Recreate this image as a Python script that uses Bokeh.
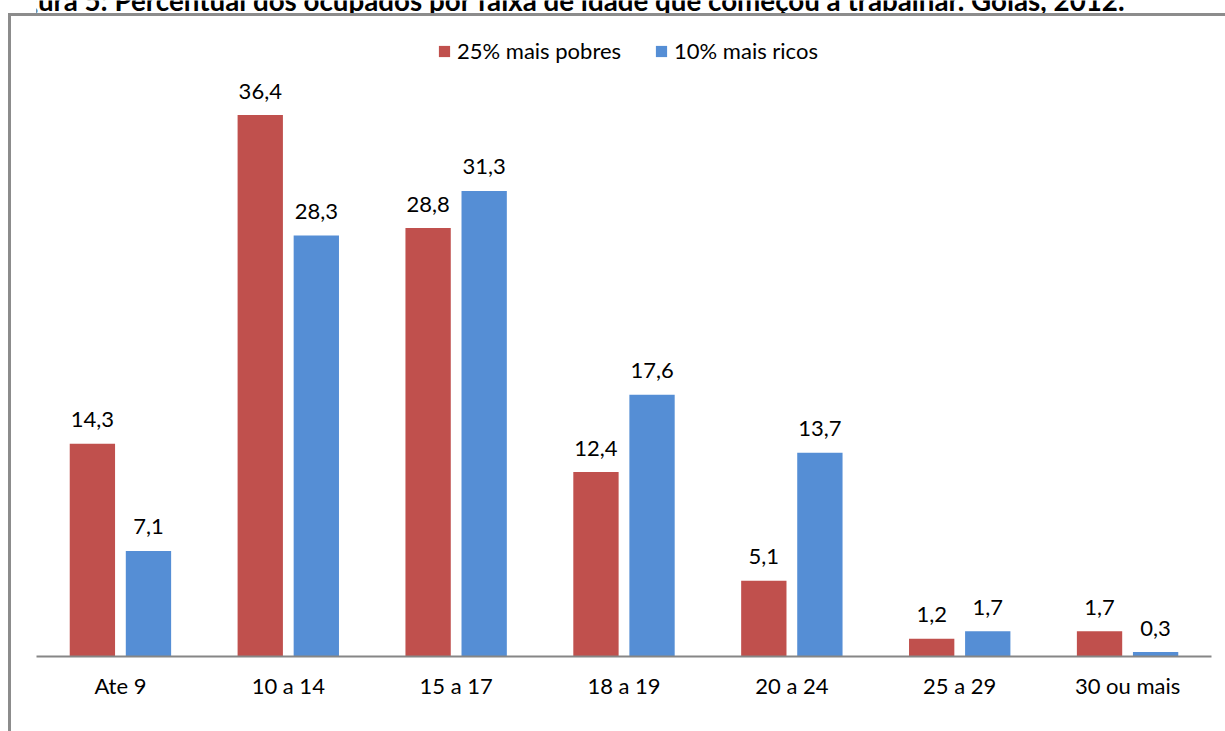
from bokeh.plotting import figure
from bokeh.models import ColumnDataSource, FactorRange, Range1d, Legend, LegendItem, Label
from bokeh.transform import dodge
from bokeh.core.properties import value
from bokeh.embed import file_html
from bokeh.resources import INLINE

# faixa de idade em que começou a trabalhar
cats = ['Ate 9', '10 a 14', '15 a 17', '18 a 19', '20 a 24', '25 a 29', '30 ou mais']
pobres = [14.3, 36.4, 28.8, 12.4, 5.1, 1.2, 1.7]   # 25% mais pobres
ricos = [7.1, 28.3, 31.3, 17.6, 13.7, 1.7, 0.3]     # 10% mais ricos

titulo = "Figura 5: Percentual dos ocupados por faixa de idade que começou a trabalhar. Goiás, 2012."
RED = "#C0504D"
BLUE = "#558ED5"
FONT = "Lato"

src = ColumnDataSource(dict(
    cat=cats,
    pobres=pobres,
    ricos=ricos,
    pobres_lbl=[f"{v:.1f}".replace(".", ",") for v in pobres],
    ricos_lbl=[f"{v:.1f}".replace(".", ",") for v in ricos],
))

# frame reaches the top of the canvas so the (clipped) title can be drawn in it
p = figure(width=1225, height=731, x_range=FactorRange(*cats, range_padding=0),
           y_range=Range1d(0, 44.1), tools="", toolbar_location=None,
           output_backend="svg", min_border_left=36, min_border_right=14,
           min_border_top=0, min_border_bottom=75, background_fill_color="white",
           border_fill_color="white")
p.outline_line_color = None
# gray frame of the chart box (left and top edges only)
p.stylesheets = [
    ":host { position: relative; }"
    ":host::before { content: ''; position: absolute; left: 8px; top: 13px; width: 3px;"
    " height: 718px; background: #8C8C8C; z-index: 10; }"
    ":host::after { content: ''; position: absolute; left: 8px; top: 13px; width: 1217px;"
    " height: 2.5px; background: #8C8C8C; z-index: 10; }"
]

# bars
r1 = p.vbar(x=dodge('cat', -0.167, range=p.x_range), top='pobres', width=0.27,
            source=src, fill_color=RED, line_color=None)
r2 = p.vbar(x=dodge('cat', 0.167, range=p.x_range), top='ricos', width=0.27,
            source=src, fill_color=BLUE, line_color=None)

# data labels
p.text(x=dodge('cat', -0.167, range=p.x_range), y='pobres', text='pobres_lbl', source=src,
       text_align="center", text_baseline="alphabetic", y_offset=-24,
       text_font=value(FONT), text_font_size="22px", text_color="#000000")
p.text(x=dodge('cat', 0.167, range=p.x_range), y='ricos', text='ricos_lbl', source=src,
       text_align="center", text_baseline="alphabetic", y_offset=-24,
       text_font=value(FONT), text_font_size="22px", text_color="#000000")

# axes
p.yaxis.visible = False
p.grid.grid_line_color = None
p.xaxis.axis_line_color = "#868686"
p.xaxis.axis_line_width = 2
p.xaxis.major_tick_line_color = None
p.xaxis.minor_tick_line_color = None
p.xaxis.major_label_standoff = 9
p.xaxis.major_label_text_font = FONT
p.xaxis.major_label_text_font_size = "22px"
p.xaxis.major_label_text_color = "#000000"

# legend
legend = Legend(items=[LegendItem(label="25% mais pobres", renderers=[r1]),
                       LegendItem(label="10% mais ricos", renderers=[r2])],
                orientation="horizontal", location=(401, 592),
                glyph_width=14, glyph_height=14, label_standoff=6, spacing=33,
                padding=0, margin=0, border_line_color=None,
                background_fill_alpha=0, label_text_font=FONT,
                label_text_font_size="22px", label_text_color="#000000")
p.add_layout(legend, "center")

# title, cut by the top edge as in the source (screen units: from frame bottom-left)
p.add_layout(Label(x=-36, y=656, x_units="screen", y_units="screen", text=titulo,
                   text_font=FONT, text_font_style="bold", text_font_size="27.75px",
                   text_baseline="alphabetic", text_color="#000000"))

open("out.html", "w").write(file_html(p, INLINE))
